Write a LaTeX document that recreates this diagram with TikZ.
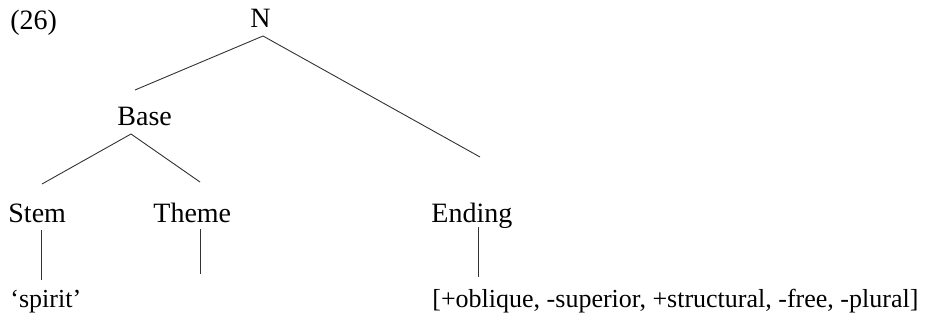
\documentclass[tikz,border=0pt]{standalone}
\usepackage{fontspec}
\setmainfont{Liberation Serif}
\usetikzlibrary{positioning}
\tikzset{lbl/.style={anchor=base west, inner sep=0pt, font=\fontsize{14}{16.8}\selectfont},
         leaf/.style={lbl, font=\fontsize{13}{15.6}\selectfont},
         branch/.style={line width=0.45pt, draw=black!80}}

\begin{document}
\begin{tikzpicture}[x=0.5pt, y=-0.5pt]
  \useasboundingbox (0,0) rectangle (945,326);

  \node[lbl] (ex) at (10,30) {(26)};
  \node[lbl] (N) at (250,28) {N};
  \node[lbl] (Base) at (117,125) {Base};

  \node[lbl] (Stem) at (8,222) {Stem};
  \node[lbl] (Theme) at (153,222) {Theme};
  \node[lbl] (Ending) at (431,222) {Ending};

  \node[leaf] (spirit) at (10,307) {`spirit'};
  \node[leaf] (feat) at (432,307) {[+oblique, -superior, +structural, -free, -plural]};

  % branch ends
  \coordinate (Nfoot) at (263,36);
  \coordinate (toBase) at (135,90);
  \coordinate (toEnding) at (480,157);
  \coordinate (Basefoot) at (131,134);
  \coordinate (toStem) at (42,184);
  \coordinate (toTheme) at (200,182);
  \coordinate (Stemfoot) at (41,230);
  \coordinate (toSpirit) at (41,280);
  \coordinate (Themefoot) at (200,229);
  \coordinate (ThemeEnd) at (200,274);
  \coordinate (Endingfoot) at (478,227);
  \coordinate (toFeat) at (478,277);

  \draw[branch] (Nfoot) -- (toBase);
  \draw[branch] (Nfoot) -- (toEnding);
  \draw[branch] (Basefoot) -- (toStem);
  \draw[branch] (Basefoot) -- (toTheme);
  \draw[branch] (Stemfoot) -- (toSpirit);
  \draw[branch] (Themefoot) -- (ThemeEnd);
  \draw[branch] (Endingfoot) -- (toFeat);
\end{tikzpicture}
\end{document}
